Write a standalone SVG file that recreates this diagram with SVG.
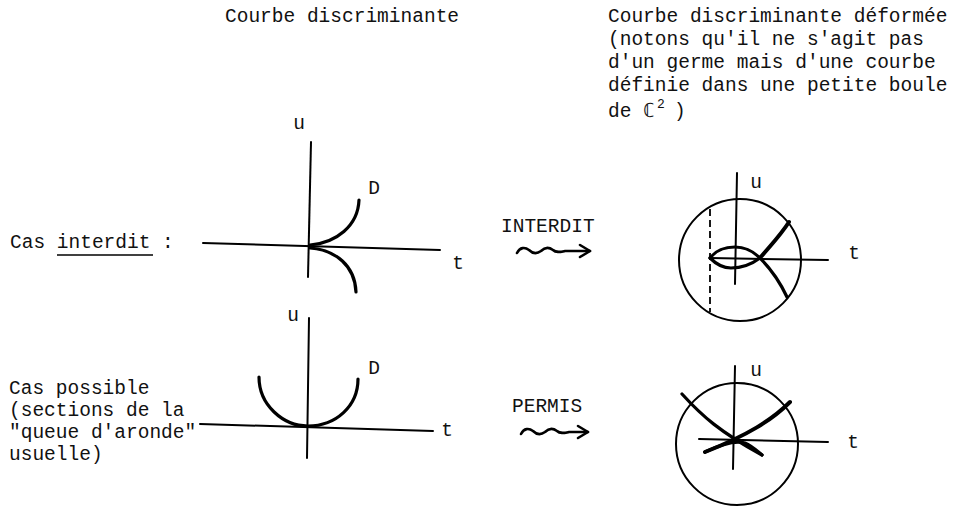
<svg xmlns="http://www.w3.org/2000/svg" width="960" height="506" viewBox="0 0 960 506">
<style>
.txt{font-family:"Liberation Mono","DejaVu Sans Mono",monospace;font-size:19.5px;fill:#111}
.lbl{font-family:"Liberation Mono","DejaVu Sans Mono",monospace;font-size:19.5px;fill:#111;text-anchor:middle}
.ax{stroke:#000;stroke-width:2;fill:none;stroke-linecap:round}
.cv{stroke:#000;stroke-width:3.2;fill:none;stroke-linecap:round}
.circ{stroke:#000;stroke-width:2;fill:none}
.dash{stroke:#000;stroke-width:1.8;fill:none;stroke-dasharray:7 4}
.arr{stroke:#000;stroke-width:2.6;fill:none;stroke-linecap:round;stroke-linejoin:round}
</style>
<rect width="960" height="506" fill="#fff"/>

<g id="title-left">
<text class="txt" x="225" y="22">Courbe discriminante</text>
</g>

<g id="title-right">
<text class="txt" x="608" y="22">Courbe discriminante déformée</text>
<text class="txt" x="608" y="45">(notons qu'il ne s'agit pas</text>
<text class="txt" x="608" y="68">d'un germe mais d'une courbe</text>
<text class="txt" x="608" y="91">définie dans une petite boule</text>
<text class="txt" x="608" y="117">de</text>
<text class="txt" x="643" y="117">ℂ</text>
<text class="txt" x="657" y="108" style="font-size:13px">2</text>
<text class="txt" x="674" y="117">)</text>
</g>

<g id="label-interdit">
<text class="txt" x="10" y="248">Cas interdit :</text>
<line x1="57" y1="255" x2="153" y2="255" stroke="#000" stroke-width="1.6"/>
</g>

<g id="label-possible">
<text class="txt" x="9" y="394">Cas possible</text>
<text class="txt" x="9" y="416">(sections de la</text>
<text class="txt" x="9" y="438">"queue d'aronde"</text>
<text class="txt" x="9" y="460">usuelle)</text>
</g>

<g id="diagram-interdit">
<line class="ax" x1="311" y1="142" x2="308" y2="277"/>
<line class="ax" x1="203" y1="243" x2="440" y2="250"/>
<path class="cv" d="M310,245 C336,243 358,226 359,200"/>
<path class="cv" d="M310,248 C336,250 355,266 356,292"/>
<text class="lbl" x="299" y="129">u</text>
<text class="lbl" x="458" y="269">t</text>
<text class="lbl" x="374" y="194">D</text>
</g>

<g id="diagram-possible">
<line class="ax" x1="309" y1="318" x2="307" y2="458"/>
<line class="ax" x1="200" y1="424" x2="433" y2="431"/>
<path class="cv" d="M259,377 C259,405 283,426 308,426 C336,426 358,406 358,379"/>
<text class="lbl" x="293" y="321">u</text>
<text class="lbl" x="447" y="436">t</text>
<text class="lbl" x="374" y="374">D</text>
</g>

<g id="deformed-interdit">
<circle class="circ" cx="740" cy="260" r="61"/>
<line class="ax" x1="737" y1="173" x2="735" y2="284"/>
<line class="ax" x1="710" y1="258" x2="828" y2="260"/>
<line class="dash" x1="710" y1="209" x2="710" y2="312"/>
<path class="cv" d="M710,258 C716,250 726,247 735,247 C746,247 754,252 760,258"/>
<path class="cv" d="M710,258 C716,264 722,268 731,268 C742,268 752,264 760,258"/>
<path class="cv" d="M760,258 C770,246 780,236 789,222" style="stroke-width:4"/>
<path class="cv" d="M760,258 C770,268 780,282 787,297"/>
<text class="lbl" x="756" y="188">u</text>
<text class="lbl" x="854" y="259">t</text>
</g>

<g id="deformed-possible">
<circle class="circ" cx="737" cy="444" r="61"/>
<line class="ax" x1="735" y1="366" x2="733" y2="469"/>
<line class="ax" x1="699" y1="439" x2="828" y2="442"/>
<path class="cv" d="M682,394 C702,416 720,432 762,455"/>
<path class="cv" d="M790,402 C772,420 748,435 705,452" style="stroke-width:4"/>
<path class="cv" d="M705,452 C722,444 735,440 745,443 C752,446 757,451 762,455"/>
<text class="lbl" x="756" y="376">u</text>
<text class="lbl" x="853" y="448">t</text>
</g>

<g id="connectors">
<g id="arrow-interdit">
<text class="txt" x="501" y="232">INTERDIT</text>
<path class="arr" d="M517,253 C520,247 525,247 529,250 C533,254 537,254 541,251 C545,247 549,247 553,250 C556,253 560,252 565,251 L590,251"/>
<path class="arr" d="M580,245 L590,251 L580,257"/>
</g>
<g id="arrow-permis">
<text class="txt" x="512" y="412">PERMIS</text>
<path class="arr" d="M521,434 C524,428 529,428 533,431 C537,435 541,435 545,432 C549,428 553,428 557,431 C560,434 564,433 569,432 L588,432"/>
<path class="arr" d="M578,426 L588,432 L578,438"/>
</g>
</g>
</svg>
